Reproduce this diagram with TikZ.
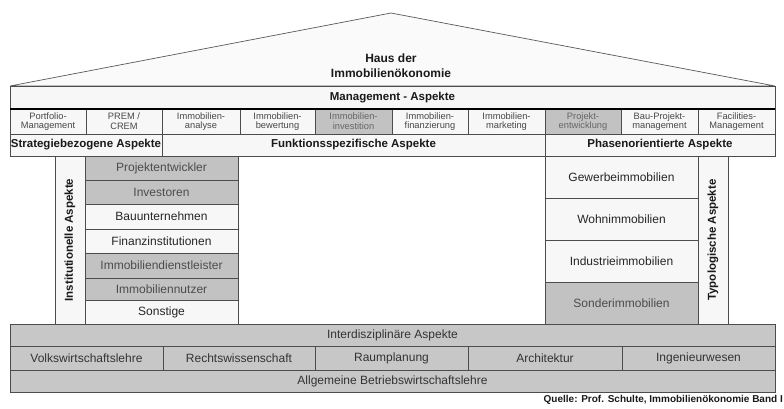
\documentclass[tikz,border=0pt]{standalone}
\usepackage{fontspec}
\setmainfont{Liberation Sans}
\newcommand\cellbox[7]{\node[#6, anchor=north west, minimum width={(#4-#2)*1pt}, minimum height={(#5-#3)*1pt}] (#1) at (#2,#3) {#7};}
\tikzset{
 cellbase/.style={draw=black!70, line width=0.7pt, inner sep=0pt, outer sep=0pt, align=center},
 wcell/.style={cellbase, fill=black!3, text=black!85, font=\fontsize{12}{13}\selectfont},
 gcell/.style={cellbase, fill=black!24, text=black!70, font=\fontsize{12}{13}\selectfont},
 swcell/.style={cellbase, fill=black!3, text=black!72, font=\fontsize{9.3}{9.8}\selectfont},
 sgcell/.style={cellbase, fill=black!24, text=black!60, font=\fontsize{9.3}{9.8}\selectfont},
 hcell/.style={cellbase, fill=black!3, text=black!90, font=\bfseries\fontsize{11.5}{12}\selectfont},
 bcell/.style={cellbase, fill=black!22, text=black!80, font=\fontsize{12}{13}\selectfont},
 vlabel/.style={rotate=90, text=black!90, font=\bfseries\fontsize{11.5}{12}\selectfont},
 roof/.style={draw=black!65, line width=0.7pt, fill=black!2},
}
\begin{document}
\begin{tikzpicture}[x=1pt,y=-1pt]
\useasboundingbox (0,0) rectangle (784,408);
% roof
\coordinate (apex) at (391,13);
\coordinate (roofL) at (10,86);
\coordinate (roofR) at (775,86);
\draw[roof] (roofL) -- (apex) -- (roofR) -- cycle;
\node[align=center, text=black!90, font=\bfseries\fontsize{12}{15}\selectfont] (title) at (391,66) {Haus der\\Immobilienökonomie};
% management
\cellbox{mgmt}{10}{86}{775}{109}{hcell}{Management - Aspekte}
\cellbox{c1}{10}{109}{86}{134}{swcell}{Portfolio-\\Management}
\cellbox{c2}{86}{109}{162}{134}{swcell}{PREM /\\CREM}
\cellbox{c3}{162}{109}{240}{134}{swcell}{Immobilien-\\analyse}
\cellbox{c4}{240}{109}{315}{134}{swcell}{Immobilien-\\bewertung}
\cellbox{c5}{315}{109}{392}{134}{sgcell}{Immobilien-\\investition}
\cellbox{c6}{392}{109}{468}{134}{swcell}{Immobilien-\\finanzierung}
\cellbox{c7}{468}{109}{545}{134}{swcell}{Immobilien-\\marketing}
\cellbox{c8}{545}{109}{621}{134}{sgcell}{Projekt-\\entwicklung}
\cellbox{c9}{621}{109}{698}{134}{swcell}{Bau-Projekt-\\management}
\cellbox{c10}{698}{109}{775}{134}{swcell}{Facilities-\\Management}
\draw[black, line width=1.2pt] (mgmt.south west) -- (mgmt.south east);
\cellbox{a1}{10}{134}{162}{156}{hcell}{Strategiebezogene Aspekte}
\cellbox{a2}{162}{134}{545}{156}{hcell}{Funktionsspezifische Aspekte}
\cellbox{a3}{545}{134}{775}{156}{hcell}{Phasenorientierte Aspekte}
% institutional
\cellbox{inst}{55}{156}{85}{324}{wcell}{}
\node[vlabel] (instlabel) at (inst.center) {Institutionelle Aspekte};
\cellbox{i1}{85}{156}{238}{180}{gcell}{Projektentwickler}
\cellbox{i2}{85}{180}{238}{204}{gcell}{Investoren}
\cellbox{i3}{85}{204}{238}{229}{wcell}{Bauunternehmen}
\cellbox{i4}{85}{229}{238}{253}{wcell}{Finanzinstitutionen}
\cellbox{i5}{85}{253}{238}{278}{gcell}{Immobiliendienstleister}
\cellbox{i6}{85}{278}{238}{300}{gcell}{Immobiliennutzer}
\cellbox{i7}{85}{300}{238}{324}{wcell}{Sonstige}
% typological
\cellbox{t1}{545}{156}{698}{198}{wcell}{Gewerbeimmobilien}
\cellbox{t2}{545}{198}{698}{240}{wcell}{Wohnimmobilien}
\cellbox{t3}{545}{240}{698}{282}{wcell}{Industrieimmobilien}
\cellbox{t4}{545}{282}{698}{324}{gcell}{Sonderimmobilien}
\cellbox{typ}{698}{156}{728}{324}{wcell}{}
\node[vlabel] (typlabel) at (typ.center) {Typologische Aspekte};
% base
\cellbox{inter}{10}{324}{775}{346}{bcell}{Interdisziplinäre Aspekte}
\cellbox{b1}{10}{346}{163}{370}{bcell}{Volkswirtschaftslehre}
\cellbox{b2}{163}{346}{315}{370}{bcell}{Rechtswissenschaft}
\cellbox{b3}{315}{346}{468}{370}{bcell}{Raumplanung}
\cellbox{b4}{468}{346}{622}{370}{bcell}{Architektur}
\cellbox{b5}{622}{346}{775}{370}{bcell}{Ingenieurwesen}
\cellbox{allg}{10}{370}{775}{392}{bcell}{Allgemeine Betriebswirtschaftslehre}
\node[anchor=east, inner sep=0pt, text=black!90, font=\bfseries\fontsize{10}{11}\selectfont] (quelle) at (783,400) {Quelle: Prof. Schulte, Immobilienökonomie Band I};
\end{tikzpicture}
\end{document}
